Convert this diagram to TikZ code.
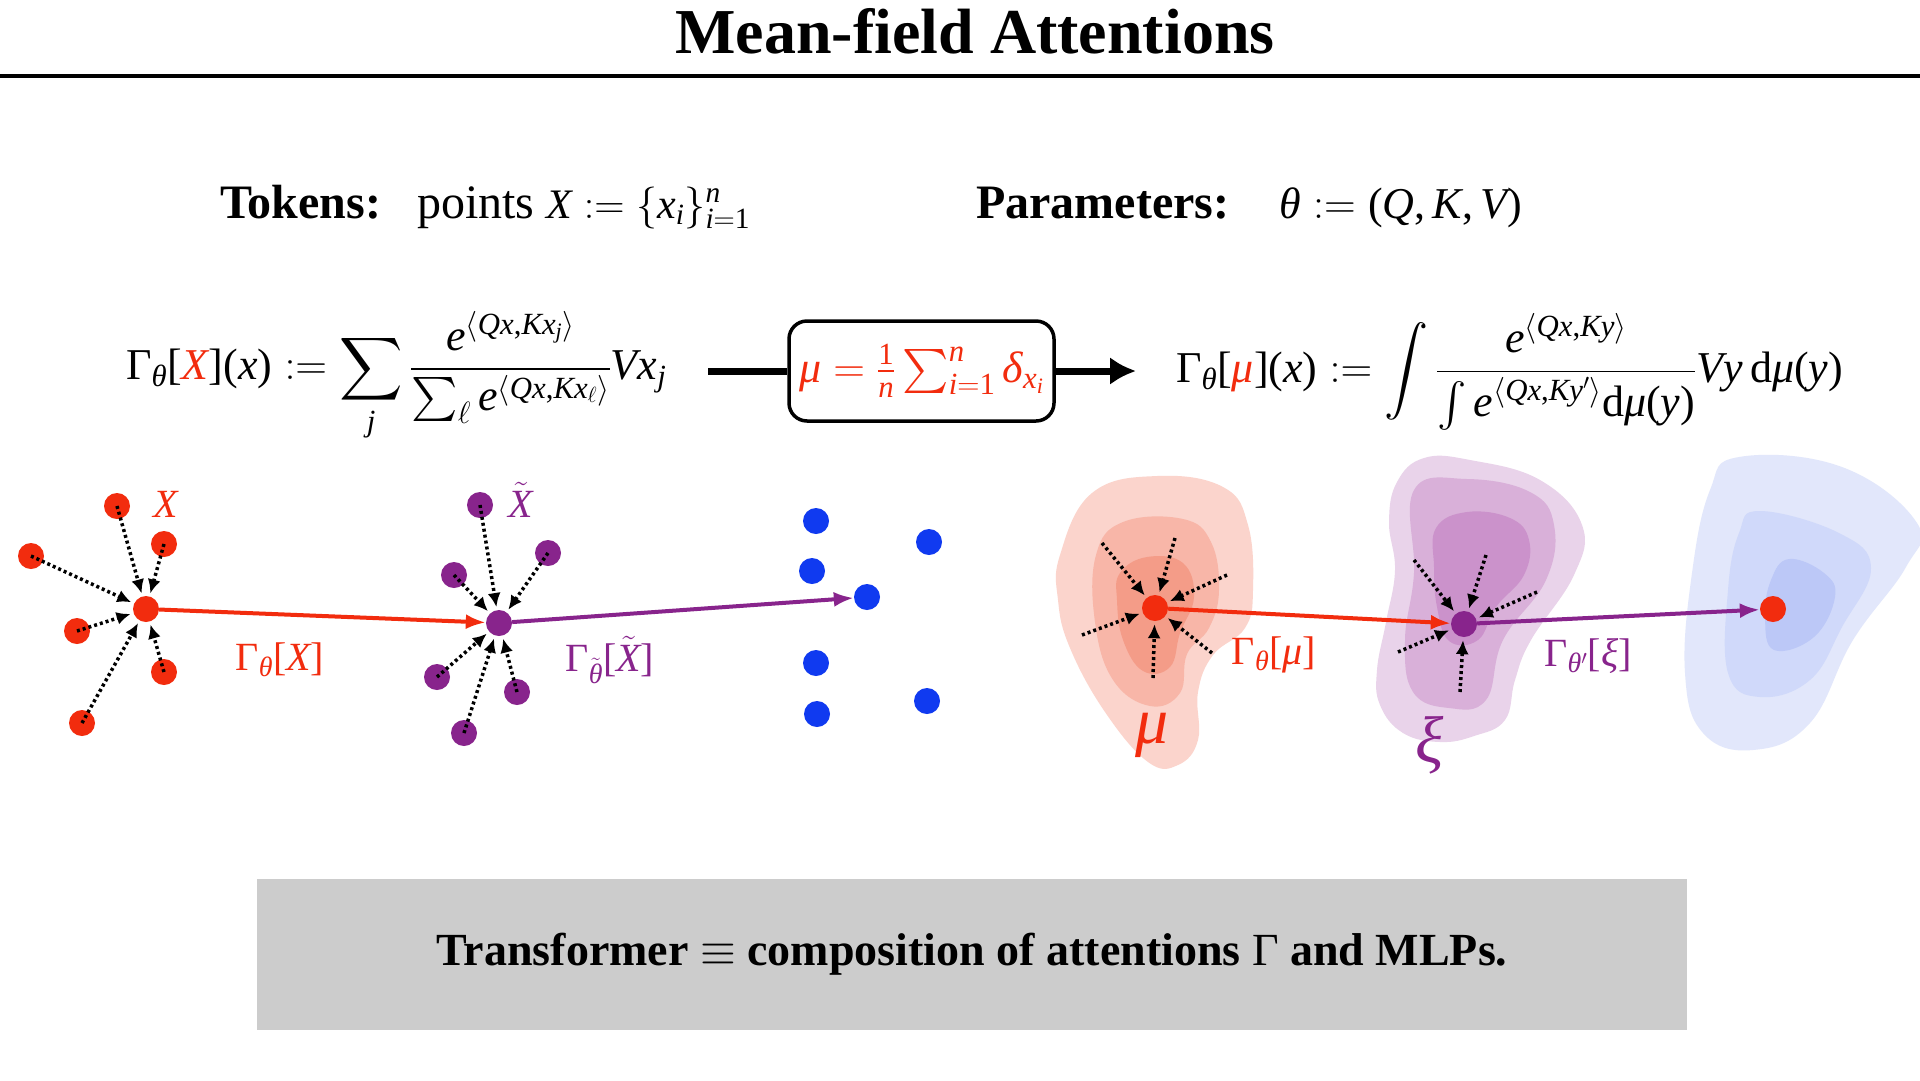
\documentclass[tikz,border=0pt]{standalone}
\usepackage{fix-cm}
\usepackage{amsmath}
\usepackage[no-math]{fontspec}
\setmainfont{Liberation Serif}
\DeclareFontShape{OMX}{cmex}{m}{n}{<->cmex10}{}
\DeclareSymbolFont{largesymbols}{OMX}{cmex}{m}{n}
\DeclareSymbolFont{tletters}{TU}{\rmdefault}{m}{it}
\DeclareSymbolFont{troman}{TU}{\rmdefault}{m}{n}
\DeclareMathAlphabet{\mathrm}{TU}{\rmdefault}{m}{n}
\def\setTL#1{\Umathcode`#1="7 \symtletters `#1\relax}
\def\setTR#1#2{\Umathcode`#1=#2 \symtroman `#1\relax}
\setTL X\setTL x\setTL i\setTL n\setTL Q\setTL K\setTL V\setTL e\setTL j\setTL y
\setTR 10\setTR (4\setTR )5\setTR [4\setTR ]5\setTR ,6
\Umathchardef\theta="7 \symtletters "03B8\relax
\Umathchardef\mu="7 \symtletters "03BC\relax
\Umathchardef\xi="7 \symtletters "03BE\relax
\Umathchardef\delta="7 \symtletters "03B4\relax
\Umathchardef\Gamma="7 \symtroman "0393\relax
\usetikzlibrary{arrows.meta}
\definecolor{myred}{RGB}{242,44,14}
\definecolor{mypurple}{RGB}{136,36,140}
\definecolor{myblue}{RGB}{16,58,240}
\definecolor{muA}{RGB}{251,212,204}
\definecolor{muB}{RGB}{248,182,168}
\definecolor{muC}{RGB}{244,156,136}
\definecolor{xiA}{RGB}{233,211,234}
\definecolor{xiB}{RGB}{217,176,217}
\definecolor{xiC}{RGB}{203,146,203}
\definecolor{blA}{RGB}{226,231,251}
\definecolor{blB}{RGB}{208,217,250}
\definecolor{blC}{RGB}{188,200,247}
\definecolor{boxgray}{RGB}{204,204,204}
\tikzset{
  dotnode/.style={circle, inner sep=0pt, minimum size=26pt},
  rdot/.style={dotnode, fill=myred},
  pdot/.style={dotnode, fill=mypurple},
  bdot/.style={dotnode, fill=myblue},
  dotarrow/.style={black, line width=3.5pt, dash pattern=on 3pt off 3pt, shorten >=3pt, -{Latex[length=14pt,width=13pt]}},
  mainarrow/.style={line width=4pt, -{Latex[length=20pt,width=15pt]}},
  bigline/.style={line width=7pt},
  bigarrow/.style={line width=7pt, -{Latex[length=26pt,width=28pt]}},
  formula/.style={inner sep=0pt, font=\fontsize{44}{52}\selectfont},
  lbl/.style={inner sep=0pt, font=\fontsize{40}{48}\selectfont},
  biglbl/.style={inner sep=0pt, font=\fontsize{66}{72}\selectfont},
  blob/.style={smooth cycle, tension=0.7}
}
\begin{document}
\begin{tikzpicture}[x=1pt, y=-1pt]
\useasboundingbox (0,0) rectangle (1920,1080);
\fill[white] (0,0) rectangle (1920,1080);

% title
\node[inner sep=0pt, anchor=base, font=\fontsize{64}{70}\selectfont\bfseries] (title) at (975,53) {Mean-field Attentions};
\coordinate (hl) at (0,76);
\coordinate (hr) at (1920,76);
\draw[line width=4.5pt] (hl) -- (hr);

% tokens / parameters
\node[inner sep=0pt, anchor=base west, font=\fontsize{48}{56}\selectfont] (tok) at (220,218)
  {\textbf{Tokens:}\hspace{36pt}points {\fontsize{42}{50}\selectfont$X := \{x_i\}_{i=1}^n$}};
\node[inner sep=0pt, anchor=base west, font=\fontsize{48}{56}\selectfont] (par) at (976,218)
  {\textbf{Parameters:}\hspace{50pt}{\fontsize{44}{52}\selectfont$\theta := (Q, K, V)$}};

% formulas
\node[formula, anchor=west] (fl) at (126,377)
  {$\Gamma_\theta[{\color{myred}X}](x) := \displaystyle\sum_j \frac{e^{\langle Qx, Kx_j\rangle}}{\sum_\ell e^{\langle Qx, Kx_\ell\rangle}} V x_j$};
\node[formula, draw, line width=3.5pt, rounded corners=18pt, minimum width=265pt, minimum height=100pt] (box) at (921.5,371)
  {${\color{myred}\mu = \tfrac{1}{n}\textstyle\sum_{i=1}^n \delta_{x_i}}$};
\coordinate (bs) at (708,371);
\coordinate (bt) at (1136,371);
\draw[bigline] (bs) -- (box.west);
\draw[bigarrow] (box.east) -- (bt);
\node[formula, anchor=west] (fr) at (1176,372)
  {$\Gamma_\theta[{\color{myred}\mu}](x) := \displaystyle\int \frac{e^{\langle Qx, Ky\rangle}}{\textstyle\int e^{\langle Qx, Ky'\rangle}\mathrm{d}\mu(y)} V y\,\mathrm{d}\mu(y)$};

% ---- discrete tokens X ----
\node[rdot] (c) at (146,609) {};
\node[rdot] (x1) at (117,506) {};
\node[rdot] (x2) at (164,544) {};
\node[rdot] (x3) at (31,556) {};
\node[rdot] (x4) at (77,631) {};
\node[rdot] (x5) at (164,672) {};
\node[rdot] (x6) at (82,723) {};
\node[lbl, text=myred] (lX) at (166,504) {$X$};
\foreach \n in {x1,x2,x3,x4,x5,x6} \draw[dotarrow] (\n.center) -- (c);

% ---- X tilde ----
\node[pdot] (pc) at (499,623) {};
\node[pdot] (y1) at (480,505) {};
\node[pdot] (y2) at (548,553) {};
\node[pdot] (y3) at (454,575) {};
\node[pdot] (y4) at (437,677) {};
\node[pdot] (y5) at (517,692) {};
\node[pdot] (y6) at (464,733) {};
\node[lbl, text=mypurple] (lXt) at (521,500) {$\tilde X$};
\foreach \n in {y1,y2,y3,y4,y5,y6} \draw[dotarrow] (\n.center) -- (pc);

% ---- blue points ----
\node[bdot] (b1) at (816,521) {};
\node[bdot] (b2) at (812,571) {};
\node[bdot] (b3) at (867,597) {};
\node[bdot] (b4) at (929,542) {};
\node[bdot] (b5) at (816,663) {};
\node[bdot] (b6) at (817,714) {};
\node[bdot] (b7) at (927,701) {};

\draw[mainarrow, myred] (c) -- (pc);
\draw[mainarrow, mypurple] (pc) -- (b3);
\node[lbl, text=myred] (g1) at (280,660) {$\Gamma_\theta[X]$};
\node[lbl, text=mypurple] (g2) at (610,660) {$\Gamma_{\tilde\theta}[\tilde X]$};

% ---- mu blob ----
\fill[muA] plot[blob] coordinates {(1060,555) (1092,493) (1157,476) (1223,487) (1248,525) (1253,590) (1245,628) (1213,655) (1198,692) (1198,740) (1178,765) (1148,762) (1105,712) (1070,648) (1058,600)};
\fill[muB] plot[blob] coordinates {(1096,555) (1123,522) (1183,519) (1211,542) (1219,590) (1209,628) (1187,654) (1180,693) (1150,706) (1113,680) (1095,622)};
\fill[muC] plot[blob] coordinates {(1120,573) (1147,557) (1183,563) (1194,597) (1180,633) (1170,667) (1143,671) (1123,640) (1117,600)};

% ---- xi blob ----
\fill[xiA] plot[blob] coordinates {(1424,458) (1470,460) (1540,480) (1582,525) (1574,575) (1531,640) (1515,680) (1505,720) (1474,736) (1440,742) (1403,733) (1380,705) (1377,670) (1386,622) (1395,570) (1389,522) (1397,482)};
\fill[xiB] plot[blob] coordinates {(1414,490) (1467,479) (1530,492) (1554,525) (1546,580) (1503,640) (1486,700) (1449,708) (1413,692) (1405,640) (1414,573)};
\fill[xiC] plot[blob] coordinates {(1436,528) (1467,512) (1510,518) (1529,540) (1524,575) (1496,607) (1478,640) (1449,641) (1437,607) (1434,567)};

% ---- blue blob ----
\fill[blA] plot[blob] coordinates {(1739,457) (1842,467) (1917,523) (1906,567) (1853,640) (1810,723) (1753,750) (1703,733) (1685,673) (1692,573) (1710,490)};
\fill[blB] plot[blob] coordinates {(1760,511) (1839,533) (1871,568) (1842,627) (1810,680) (1760,697) (1728,673) (1728,590) (1739,533)};
\fill[blC] plot[blob] coordinates {(1789,559) (1824,573) (1835,597) (1814,637) (1774,650) (1765,617) (1771,580)};

% mu center and arrows
\node[rdot] (mc) at (1155,608) {};
\coordinate (m1) at (1102,543);
\coordinate (m2) at (1175,538);
\coordinate (m3) at (1227,575);
\coordinate (m4) at (1082,635);
\coordinate (m5) at (1153,678);
\coordinate (m6) at (1212,653);
\foreach \n in {m1,m2,m3,m4,m5,m6} \draw[dotarrow] (\n) -- (mc);

% xi center and arrows
\node[pdot] (xc) at (1464,624) {};
\coordinate (k1) at (1414,560);
\coordinate (k2) at (1486,555);
\coordinate (k3) at (1537,592);
\coordinate (k4) at (1398,652);
\coordinate (k5) at (1460,692);
\foreach \n in {k1,k2,k3,k4,k5} \draw[dotarrow] (\n) -- (xc);

\node[rdot] (ec) at (1773,609) {};
\draw[mainarrow, myred] (mc) -- (xc);
\draw[mainarrow, mypurple] (xc) -- (ec);
\node[lbl, text=myred] (g3) at (1274,655) {$\Gamma_\theta[\mu]$};
\node[lbl, text=mypurple] (g4) at (1588,656) {$\Gamma_{\theta'}[\xi]$};
\node[biglbl, text=myred] (lmu) at (1152,735) {$\mu$};
\node[biglbl, text=mypurple] (lxi) at (1430,745) {$\xi$};

% bottom box
\node[fill=boxgray, minimum width=1430pt, minimum height=151pt, inner sep=0pt] (bot) at (972,954) {};
\node[inner sep=0pt, font=\fontsize{46}{52}\selectfont\bfseries] (bottxt) at (bot.center)
  {Transformer $\equiv$ composition of attentions $\Gamma$ and MLPs.};
\end{tikzpicture}
\end{document}
